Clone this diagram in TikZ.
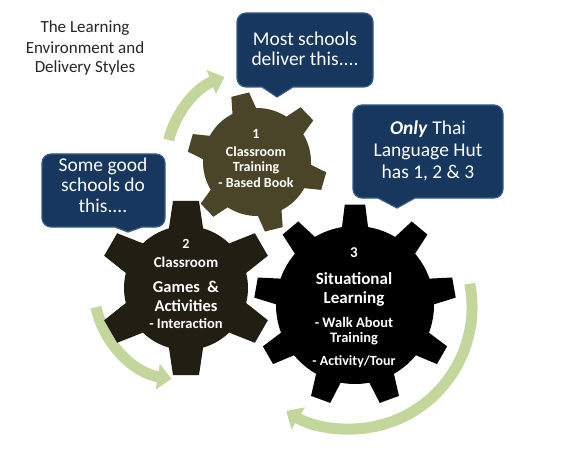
\documentclass[tikz,border=0pt]{standalone}
\usepackage{fontspec}
\setmainfont{Carlito}
\usetikzlibrary{arrows.meta}
\definecolor{navy}{HTML}{17375E}
\definecolor{navyedge}{HTML}{385D8A}
\definecolor{gearone}{HTML}{4A4528}
\definecolor{geartwo}{HTML}{221E13}
\definecolor{gearthree}{HTML}{000000}
\definecolor{leaf}{HTML}{C3D69B}
\definecolor{titlegray}{HTML}{262626}
\newcommand\myfs[1]{\fontsize{#1}{#1}\selectfont}
% #1 style, #2 centre, #3 inner r, #4 outer r, #5 last index, #6 step, #7 offset, #8 base half-angle, #9 tip half-angle
\newcommand\mygear[9]{%
  \fill[#1,shift={#2}] ({#7-#8}:#3)
  \foreach \k in {0,...,#5}{
    -- ({#7+\k*#6-#9}:#4) -- ({#7+\k*#6+#9}:#4) -- ({#7+\k*#6+#8}:#3)
    arc[start angle={#7+\k*#6+#8}, end angle={#7+(\k+1)*#6-#8}, radius=#3]
  } -- cycle;}
% #1 left, #2 bottom, #3 right, #4 top, #5 pointer left, #6 pointer right, #7 tip x, #8 tip y
\newcommand\mycallout[8]{%
  \draw[callout] (#5,#2) -- (#7,#8) -- (#6,#2) -- ({#3-9},#2)
    arc[start angle=-90,end angle=0,radius=9] -- (#3,{#4-9})
    arc[start angle=0,end angle=90,radius=9] -- ({#1+9},#4)
    arc[start angle=90,end angle=180,radius=9] -- (#1,{#2+9})
    arc[start angle=180,end angle=270,radius=9] -- cycle;}
\begin{document}
\begin{tikzpicture}[x=1pt,y=1pt,
  callout/.style={fill=navy,draw=navyedge,line width=1.2pt,line join=round},
  calltext/.style={text=white,anchor=base,inner sep=0pt,font=\myfs{19.5}},
  titletext/.style={text=titlegray,anchor=base,inner sep=0pt,font=\myfs{17}},
  geartext/.style={text=white,anchor=base,inner sep=0pt},
  cyclearrow/.style={draw=leaf,line width=11pt,-{Triangle[width=25pt,length=14pt]}}]
\fill[white] (0,0) rectangle (577,461);
\useasboundingbox (0,0) rectangle (577,461);

% cycle arrows
\draw[cyclearrow] ([shift={(257,299)}]166:91) arc[start angle=166,end angle=111,radius=91];
\draw[cyclearrow] ([shift={(186,173)}]192:92) arc[start angle=192,end angle=261,radius=92];
\draw[cyclearrow] ([shift={(350,154)}]11:122) arc[start angle=11,end angle=-121.5,radius=122];

% gears
\mygear{gearone}{(257,299)}{54}{70}{5}{60}{104}{13}{7.5}
\mygear{geartwo}{(186,173)}{62}{88}{5}{60}{90}{16}{8.5}
\mygear{gearthree}{(355,156)}{79}{101}{8}{40}{90}{9.5}{5.8}

% callouts
\mycallout{237}{374}{373}{448}{262}{293}{277}{364}
\mycallout{353}{263}{503}{356}{378}{415}{397}{253}
\mycallout{42}{234}{165}{307}{115}{142}{128}{229}

% title
\node[titletext] (t1) at (85,428) {The Learning};
\node[titletext] (t2) at (85,407) {Environment and};
\node[titletext] (t3) at (85,388) {Delivery Styles};

% callout texts
\node[calltext] (a1) at (305,415) {Most schools};
\node[calltext] (a2) at (305,395) {deliver this....};
\node[calltext] (b1) at (428,326) {\textbf{\textit{Only}} Thai};
\node[calltext] (b2) at (428,304) {Language Hut};
\node[calltext] (b3) at (428,283) {has 1, 2 \& 3};
\node[calltext] (c1) at (103,290) {Some good};
\node[calltext] (c2) at (103,270) {schools do};
\node[calltext] (c3) at (103,249) {this....};

% gear 1 text
\node[geartext,font=\bfseries\myfs{14}] (g1a) at (256,322) {1};
\node[geartext,font=\bfseries\myfs{14}] (g1b) at (256,304) {Classroom};
\node[geartext,font=\bfseries\myfs{14}] (g1c) at (256,289) {Training};
\node[geartext,font=\bfseries\myfs{14}] (g1d) at (256,273) {- Based Book};

% gear 2 text
\node[geartext,font=\bfseries\myfs{14}] (g2a) at (186,213) {2};
\node[geartext,font=\bfseries\myfs{15}] (g2b) at (186,194) {Classroom};
\node[geartext,font=\bfseries\myfs{16.5}] (g2c) at (186,169) {Games~ \&};
\node[geartext,font=\bfseries\myfs{16.5}] (g2d) at (186,150) {Activities};
\node[geartext,font=\bfseries\myfs{14.5}] (g2e) at (186,133) {- Interaction};

% gear 3 text
\node[geartext,font=\bfseries\myfs{15}] (g3a) at (354,204) {3};
\node[geartext,font=\bfseries\myfs{17}] (g3b) at (354,177) {Situational};
\node[geartext,font=\bfseries\myfs{17}] (g3c) at (354,158) {Learning};
\node[geartext,font=\bfseries\myfs{14.5}] (g3d) at (354,134) {- Walk About};
\node[geartext,font=\bfseries\myfs{14.5}] (g3e) at (354,119) {Training};
\node[geartext,font=\bfseries\myfs{14}] (g3f) at (354,96) {- Activity/Tour};
\end{tikzpicture}
\end{document}
